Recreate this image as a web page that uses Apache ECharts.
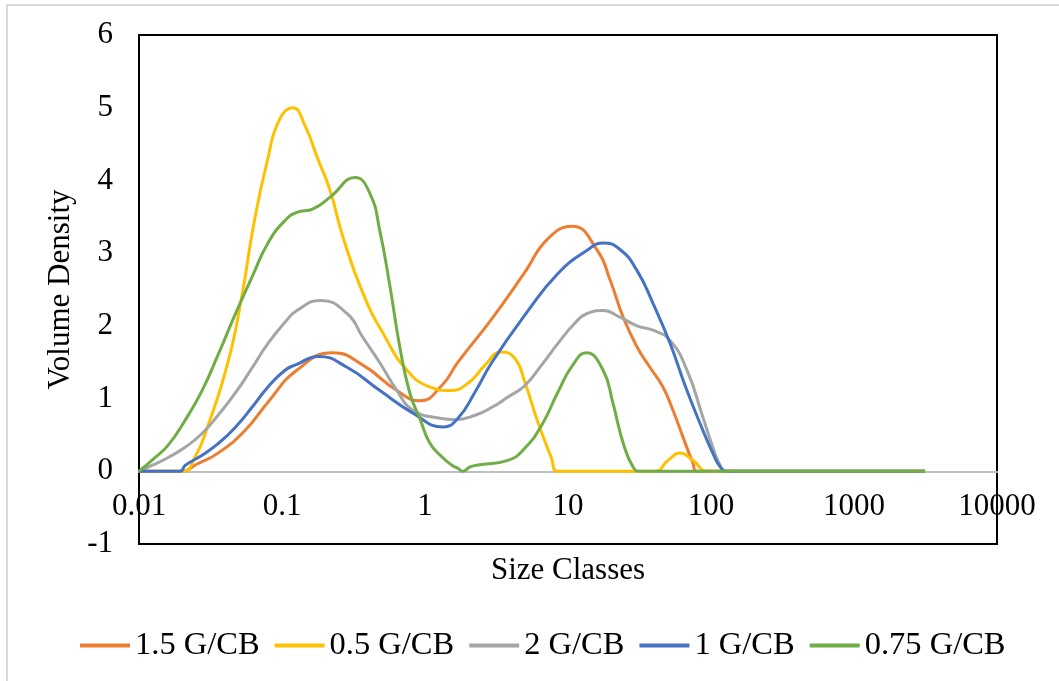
<!DOCTYPE html>
<html><head><meta charset="utf-8">
<script src="https://cdn.jsdelivr.net/npm/echarts@6/dist/echarts.min.js"></script>
<style>html,body{margin:0;padding:0;background:#fff}#c{width:1059px;height:681px}</style>
</head><body><div id="c"></div>
<script>
const size15 = [0.01, 0.02, 0.0255, 0.0357, 0.0551, 0.0798, 0.127, 0.227, 0.368, 0.637, 0.922,
  1.31, 1.70, 2.94, 5.00, 7.25, 10.7, 16.0, 19.7, 24.3, 30.4, 37.4, 46.1, 54.2, 63.7, 74.8, 79.8, 3140];
const val15 = [0, 0, 0.1, 0.25, 0.56, 0.95, 1.39, 1.63, 1.46, 1.11, 0.97,
  1.18, 1.5, 2.1, 2.74, 3.2, 3.37, 3.04, 2.63, 2.12, 1.71, 1.43, 1.16, 0.84, 0.47, 0.11, 0, 0];

const size05 = [0.01, 0.0203, 0.0247, 0.0299, 0.0419, 0.0525, 0.0627, 0.0785, 0.0968, 0.119, 0.145,
  0.176, 0.217, 0.267, 0.368, 0.508, 0.748, 1.08, 1.50, 2.00, 2.63, 3.40, 4.26, 5.00, 6.17, 7.67, 8.45,
  40.5, 50.0, 60.7, 74.8, 94.9, 3140];
const val05 = [0, 0, 0.2, 0.59, 1.5, 2.42, 3.34, 4.25, 4.85, 5.0, 4.75,
  4.32, 3.86, 3.22, 2.45, 1.9, 1.39, 1.16, 1.11, 1.21, 1.46, 1.64, 1.55, 1.22, 0.67, 0.18, 0,
  0, 0.15, 0.25, 0.15, 0, 0];

const size2 = [0.01, 0.0123, 0.016, 0.021, 0.0276, 0.0357, 0.0469, 0.0617, 0.0798, 0.105, 0.127,
  0.185, 0.285, 0.368, 0.484, 0.637, 0.824, 1.27, 1.62, 2.24, 2.94, 3.80, 5.00, 6.53, 8.51,
  11.2, 13.6, 17.6, 23.1, 30.4, 39.3, 51.7, 67.9, 87.9, 103, 116, 129, 3140];
const val2 = [0, 0.08, 0.19, 0.33, 0.52, 0.77, 1.07, 1.42, 1.76, 2.05, 2.21,
  2.35, 2.17, 1.84, 1.49, 1.11, 0.84, 0.73, 0.71, 0.77, 0.88, 1.02, 1.18, 1.46, 1.76,
  2.04, 2.17, 2.21, 2.12, 2.0, 1.94, 1.8, 1.39, 0.74, 0.33, 0.08, 0, 0];

const size1 = [0.01, 0.0194, 0.021, 0.0276, 0.0357, 0.0469, 0.0617, 0.0798, 0.105, 0.127, 0.179,
  0.285, 0.484, 0.824, 1.34, 1.70, 2.24, 2.94, 5.00, 8.51, 13.6, 17.6, 23.1, 30.4,
  39.3, 51.7, 67.9, 87.9, 103, 116, 129, 3140];
const val1 = [0, 0, 0.08, 0.22, 0.38, 0.6, 0.88, 1.16, 1.39, 1.47, 1.58,
  1.43, 1.11, 0.8, 0.61, 0.73, 1.09, 1.5, 2.15, 2.72, 3.04, 3.14, 3.05, 2.76,
  2.31, 1.76, 1.11, 0.56, 0.25, 0.06, 0, 0];

const size075 = [0.01, 0.0123, 0.016, 0.021, 0.0276, 0.0357, 0.0469, 0.0617, 0.0798, 0.105, 0.127,
  0.165, 0.217, 0.324, 0.412, 0.484, 0.569, 0.668, 0.785, 0.922, 1.08, 1.31, 1.55, 1.70, 1.84,
  2.07, 2.42, 3.80, 5.00, 6.53, 8.51, 10.7, 13.4, 17.6, 20.6, 24.3, 28.5, 31.9, 3140];
const val075 = [0, 0.15, 0.36, 0.7, 1.11, 1.6, 2.15, 2.67, 3.14, 3.45, 3.56,
  3.61, 3.77, 4.04, 3.82, 3.3, 2.54, 1.7, 1.07, 0.72, 0.39, 0.2, 0.08, 0.04, 0.0,
  0.06, 0.09, 0.15, 0.32, 0.63, 1.09, 1.45, 1.63, 1.39, 0.94, 0.39, 0.06, 0, 0];

const seriesNames = ['1.5 G/CB', '0.5 G/CB', '2 G/CB', '1 G/CB', '0.75 G/CB'];
const seriesSizes = [size15, size05, size2, size1, size075];
const seriesValues = [val15, val05, val2, val1, val075];
const seriesColors = ['#ED7D31', '#FFC000', '#A5A5A5', '#4472C4', '#70AD47'];
const xTickLabels = ['0.01', '0.1', '1', '10', '100', '1000', '10000'];
const yTickLabels = ['-1', '0', '1', '2', '3', '4', '5', '6'];

const FONT = 'Liberation Serif';
const GRID_TOP = 35, GRID_BOTTOM_PX = 544, Y_MIN = -1, Y_MAX = 6;
const zeroOffset = -(GRID_BOTTOM_PX - GRID_TOP) * (0 - Y_MIN) / (Y_MAX - Y_MIN);

const chart = echarts.init(document.getElementById('c'), null, {renderer: 'canvas'});
chart.setOption({
  backgroundColor: '#fff',
  animation: false,
  graphic: [{
    type: 'rect', shape: {x: 7, y: 5, width: 1200, height: 800},
    style: {fill: 'none', stroke: '#d9d9d9', lineWidth: 2}, silent: true
  }],
  grid: {left: 139, right: 62, top: GRID_TOP, bottom: 681 - GRID_BOTTOM_PX, show: true,
    borderColor: '#000', borderWidth: 2, backgroundColor: 'transparent'},
  legend: {
    data: seriesNames, left: 75, top: 624, icon: 'rect', itemWidth: 50, itemHeight: 4,
    itemGap: 15,
    textStyle: {fontFamily: FONT, fontSize: 32.5, color: '#000'}
  },
  xAxis: {
    type: 'log', logBase: 10, min: 0.01, max: 10000,
    offset: zeroOffset,
    name: 'Size Classes', nameLocation: 'middle', nameGap: 84,
    nameTextStyle: {fontFamily: FONT, fontSize: 31, color: '#000'},
    axisLine: {show: true, onZero: false, lineStyle: {color: '#BFBFBF', width: 2}},
    axisTick: {show: false}, splitLine: {show: false},
    axisLabel: {fontFamily: FONT, fontSize: 31, color: '#000', margin: 20,
      showMinLabel: true, showMaxLabel: true, hideOverlap: false,
      formatter: v => xTickLabels[Math.round(Math.log10(v)) + 2]}
  },
  yAxis: {
    type: 'value', min: Y_MIN, max: Y_MAX, interval: 1,
    name: 'Volume Density', nameLocation: 'middle', nameGap: 42, nameRotate: 90,
    nameTextStyle: {fontFamily: FONT, fontSize: 31, color: '#000'},
    axisLine: {show: false, onZero: false}, axisTick: {show: false}, splitLine: {show: false},
    axisLabel: {fontFamily: FONT, fontSize: 31, color: '#000', margin: 26,
      formatter: v => yTickLabels[Math.round(v) + 1]}
  },
  series: seriesNames.map((n, i) => ({
    name: n, type: 'line', smooth: 0.5, symbol: 'none', showSymbol: false,
    color: seriesColors[i],
    lineStyle: {color: seriesColors[i], width: 3},
    data: seriesSizes[i].map((s, k) => [s, seriesValues[i][k]])
  }))
});
</script></body></html>
